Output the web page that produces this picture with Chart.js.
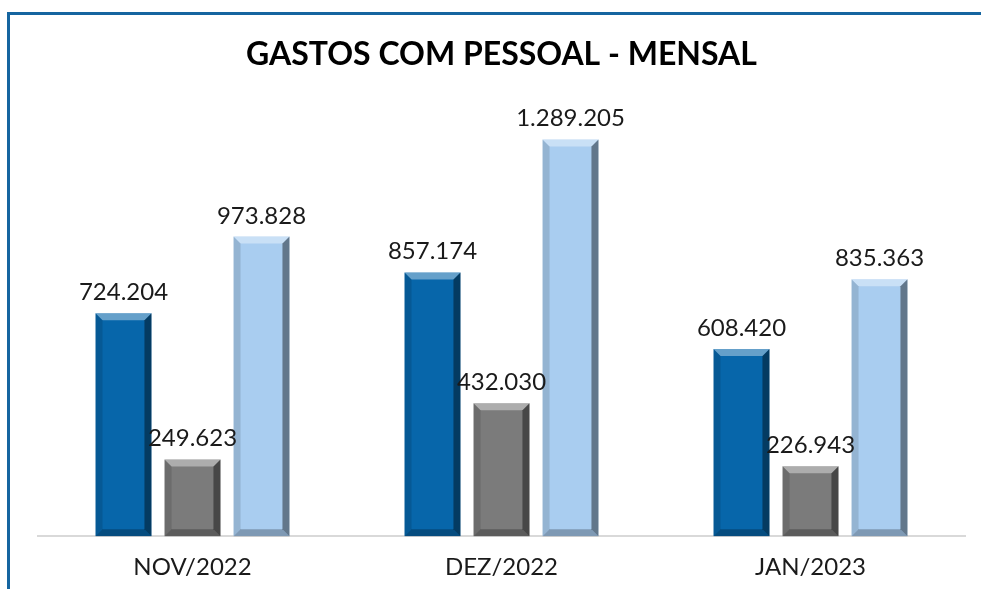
<!DOCTYPE html>
<html lang="pt-BR">
<head>
<meta charset="utf-8">
<title>Gastos com Pessoal - Mensal</title>
<script src="https://cdn.jsdelivr.net/npm/chart.js@4.4.1/dist/chart.umd.min.js"></script>
<style>
  html, body { margin: 0; padding: 0; background: #fff; }
  #wrap { position: relative; width: 981px; height: 589px; overflow: hidden; }
  #frame {
    position: absolute; left: 7px; top: 12px; right: 0; bottom: 0;
    border-top: 3px solid #1565a0;
    border-left: 3px solid #1565a0;
  }
  #chart { position: absolute; left: 0; top: 0; }
</style>
</head>
<body>
<div id="wrap">
  <div id="frame"></div>
  <canvas id="chart" width="981" height="589"></canvas>
</div>
<script>
/* Gastos com pessoal – três séries por mês */

const MONTHS   = ['NOV/2022', 'DEZ/2022', 'JAN/2023'];
const SERIES_A = [724204, 857174, 608420];
const SERIES_B = [249623, 432030, 226943];
const SERIES_C = [973828, 1289205, 835363];

const COLORS = {
  blue:      '#0766aa',
  gray:      '#7b7b7b',
  lightBlue: '#a9cdf0',
  frame:     '#1565a0',
  axis:      '#d9d9d9',
};

function formatBR(n) {
  return String(n).replace(/\B(?=(\d{3})+(?!\d))/g, '.');
}

// Bevelled look of the bars (top light, right/bottom shade)
const bevelPlugin = {
  id: 'bevel',
  afterDatasetsDraw(chart) {
    const ctx = chart.ctx;
    const b = 7;
    chart.data.datasets.forEach((ds, i) => {
      chart.getDatasetMeta(i).data.forEach(bar => {
        const { x, y, base, width } = bar.getProps(['x', 'y', 'base', 'width'], true);
        const x0 = x - width / 2, x1 = x + width / 2;
        const y0 = y, y1 = base;
        const poly = (pts, fill) => {
          ctx.beginPath();
          ctx.moveTo(pts[0][0], pts[0][1]);
          pts.slice(1).forEach(p => ctx.lineTo(p[0], p[1]));
          ctx.closePath();
          ctx.fillStyle = fill;
          ctx.fill();
        };
        ctx.save();
        poly([[x0, y0], [x0, y1], [x0 + b, y1 - b], [x0 + b, y0 + b]], 'rgba(0,0,0,0.12)');
        poly([[x1, y0], [x1, y1], [x1 - b, y1 - b], [x1 - b, y0 + b]], 'rgba(0,0,0,0.42)');
        poly([[x0, y1], [x1, y1], [x1 - b, y1 - b], [x0 + b, y1 - b]], 'rgba(0,0,0,0.25)');
        poly([[x0, y0], [x1, y0], [x1 - b, y0 + b], [x0 + b, y0 + b]], 'rgba(255,255,255,0.38)');
        ctx.restore();
      });
    });
  },
};

// Value labels above each bar
const valueLabels = {
  id: 'valueLabels',
  afterDatasetsDraw(chart) {
    const ctx = chart.ctx;
    ctx.save();
    ctx.font = '24px Lato, "Open Sans", sans-serif';
    ctx.fillStyle = '#1a1a1a';
    ctx.textAlign = 'center';
    ctx.textBaseline = 'alphabetic';
    chart.data.datasets.forEach((ds, i) => {
      chart.getDatasetMeta(i).data.forEach((bar, j) => {
        ctx.fillText(formatBR(ds.data[j]), bar.x, bar.y - 13);
      });
    });
    ctx.restore();
  },
};

new Chart(document.getElementById('chart'), {
  type: 'bar',
  data: {
    labels: MONTHS,
    datasets: [
      { label: 'Série A', data: SERIES_A, backgroundColor: COLORS.blue },
      { label: 'Série B', data: SERIES_B, backgroundColor: COLORS.gray },
      { label: 'Série C', data: SERIES_C, backgroundColor: COLORS.lightBlue },
    ],
  },
  options: {
    responsive: false,
    animation: false,
    categoryPercentage: 0.67,
    barPercentage: 0.81,
    layout: { padding: { left: 38, right: 16, top: 0, bottom: -10 } },
    plugins: {
      legend: { display: false },
      tooltip: { enabled: false },
      title: {
        display: true,
        text: 'GASTOS COM PESSOAL - MENSAL',
        color: '#000',
        font: { family: 'Lato, "Open Sans", sans-serif', size: 32, weight: 'bold' },
        padding: { top: 35, bottom: 32 },
      },
    },
    scales: {
      x: {
        grid: { display: false, drawTicks: false },
        border: { display: true, color: COLORS.axis, width: 2 },
        ticks: {
          color: '#1a1a1a',
          padding: 17,
          font: { family: 'Lato, "Open Sans", sans-serif', size: 24 },
        },
      },
      y: {
        display: false,
        min: 0,
        max: 1400000,
      },
    },
  },
  plugins: [bevelPlugin, valueLabels],
});
</script>
</body>
</html>
